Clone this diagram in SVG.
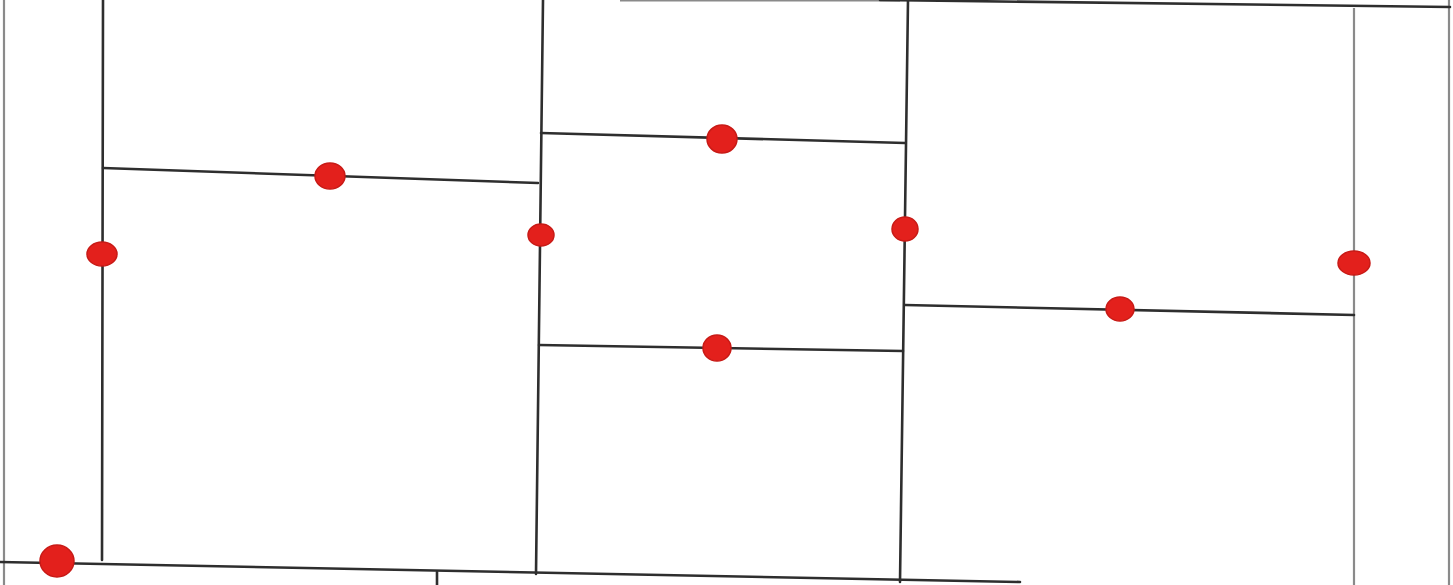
<svg xmlns="http://www.w3.org/2000/svg" width="1453" height="585" viewBox="0 0 1453 585">
<style>
.ln{stroke:#2e2e2e;stroke-width:2.6;fill:none;stroke-linecap:round}
.lt{stroke:#8a8a8a;stroke-width:2.2;fill:none}
.dot{fill:#e3201c;stroke:#c81a16;stroke-width:1.5}
</style>
<rect width="1453" height="585" fill="#ffffff"/>
<g id="borders">
<line class="lt" x1="4" y1="0" x2="4" y2="585"/>
<line class="lt" x1="1449" y1="0" x2="1449" y2="585"/>
<line class="lt" x1="1354" y1="8" x2="1354" y2="585"/>
<line class="lt" x1="620" y1="0.5" x2="900" y2="0.5"/>
</g>
<g id="connectors">
<line class="ln" x1="103" y1="0" x2="102" y2="560"/>
<line class="ln" x1="543" y1="0" x2="536" y2="574"/>
<line class="ln" x1="908" y1="0" x2="900" y2="582"/>
<line class="ln" x1="0" y1="562" x2="1020" y2="582"/>
<line class="ln" x1="437" y1="572" x2="437" y2="585"/>
<line class="ln" x1="880" y1="0" x2="1450" y2="7"/>
<line class="ln" x1="103" y1="168" x2="538" y2="183"/>
<line class="ln" x1="541" y1="133" x2="905" y2="143"/>
<line class="ln" x1="539" y1="345" x2="903" y2="351"/>
<line class="ln" x1="905" y1="305" x2="1354" y2="315"/>
</g>
<g id="dots">
<ellipse class="dot" cx="330" cy="176" rx="15" ry="13"/>
<ellipse class="dot" cx="722" cy="139" rx="15" ry="14"/>
<ellipse class="dot" cx="717" cy="348" rx="14" ry="13"/>
<ellipse class="dot" cx="1120" cy="309" rx="14" ry="12"/>
<ellipse class="dot" cx="102" cy="254" rx="15" ry="12"/>
<ellipse class="dot" cx="541" cy="235" rx="13" ry="11"/>
<ellipse class="dot" cx="905" cy="229" rx="13" ry="12"/>
<ellipse class="dot" cx="1354" cy="263" rx="16" ry="12"/>
<ellipse class="dot" cx="57" cy="561" rx="17" ry="16"/>
</g>
</svg>
